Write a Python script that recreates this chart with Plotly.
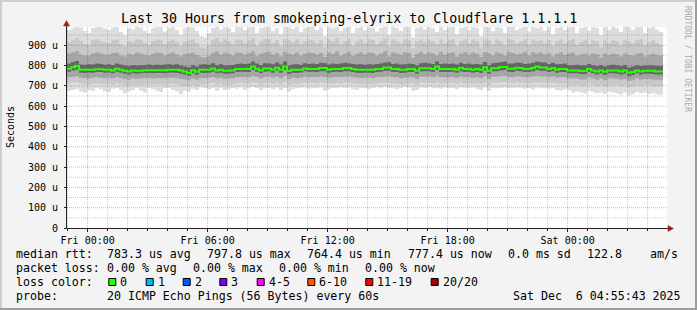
import plotly.graph_objects as go
import pandas as pd

# ---------------- data ----------------
title_text = "Last 30 Hours from smokeping-elyrix to Cloudflare 1.1.1.1"
range_start = "2025-12-04 22:58:00"
range_end = "2025-12-06 04:58:00"
step_minutes = 12

median_rtt = [
    784, 792, 798, 779, 779, 779, 779, 782, 782, 779,
    779, 776, 784, 779, 775, 771, 776, 775, 775, 777,
    777, 777, 777, 777, 777, 779, 779, 779, 776, 771,
    764, 777, 770, 779, 779, 779, 786, 776, 779, 774,
    775, 776, 783, 783, 783, 783, 795, 784, 776, 786,
    786, 779, 789, 779, 795, 773, 779, 779, 779, 786,
    783, 783, 783, 788, 788, 779, 783, 783, 783, 788,
    788, 783, 779, 779, 779, 779, 779, 783, 783, 790,
    790, 783, 783, 779, 779, 783, 783, 774, 787, 787,
    787, 783, 795, 783, 783, 783, 783, 779, 789, 783,
    783, 780, 783, 779, 792, 775, 787, 787, 793, 793,
    784, 784, 789, 788, 783, 783, 788, 795, 790, 790,
    783, 788, 780, 783, 783, 776, 776, 776, 773, 773,
    783, 776, 771, 776, 769, 776, 776, 776, 771, 776,
    765, 768, 776, 771, 774, 774, 774, 771, 771,
]
ping_max = [
    975, 985, 990, 988, 970, 960, 985, 990, 990, 982,
    975, 988, 990, 965, 948, 985, 978, 990, 988, 972,
    960, 985, 990, 990, 968, 985, 990, 975, 952, 985,
    990, 988, 970, 945, 940, 960, 985, 990, 978, 990,
    985, 965, 990, 990, 975, 988, 990, 960, 985, 990,
    990, 972, 985, 955, 990, 988, 980, 990, 965, 985,
    990, 990, 975, 988, 945, 990, 985, 990, 970, 985,
    990, 960, 985, 990, 975, 990, 988, 968, 985, 990,
    950, 990, 985, 972, 990, 990, 940, 985, 990, 978,
    990, 985, 965, 990, 975, 988, 990, 955, 985, 990,
    975, 990, 985, 945, 990, 988, 970, 990, 985, 960,
    990, 990, 975, 985, 990, 968, 990, 985, 990, 972,
    990, 955, 985, 990, 975, 988, 990, 960, 985, 990,
    970, 990, 985, 950, 990, 975, 990, 985, 965, 990,
    988, 975, 990, 990, 960, 985, 990, 978, 965,
]
ping_hi2 = [
    915, 925, 935, 920, 905, 900, 925, 930, 920, 915,
    910, 925, 930, 905, 895, 920, 915, 930, 925, 910,
    900, 920, 930, 925, 905, 920, 930, 915, 895, 920,
    925, 930, 910, 890, 885, 900, 925, 935, 915, 930,
    920, 905, 930, 925, 910, 925, 935, 900, 920, 930,
    930, 910, 925, 895, 930, 925, 915, 930, 905, 920,
    930, 925, 910, 925, 890, 930, 920, 935, 905, 920,
    930, 900, 920, 930, 910, 930, 925, 905, 920, 935,
    895, 930, 920, 910, 930, 925, 885, 920, 930, 915,
    930, 920, 905, 930, 910, 925, 930, 895, 920, 930,
    910, 930, 920, 890, 930, 925, 905, 930, 920, 900,
    930, 925, 910, 920, 930, 905, 930, 920, 925, 910,
    925, 895, 920, 930, 910, 925, 930, 900, 915, 925,
    905, 925, 920, 890, 925, 910, 925, 920, 900, 925,
    920, 910, 925, 930, 900, 915, 925, 910, 900,
]
ping_hi3 = [
    860, 865, 870, 855, 850, 850, 860, 865, 860, 855,
    855, 862, 865, 850, 845, 858, 855, 865, 860, 852,
    848, 858, 865, 862, 850, 858, 865, 855, 845, 858,
    860, 865, 852, 842, 840, 848, 862, 870, 855, 865,
    858, 850, 865, 862, 855, 862, 870, 848, 858, 865,
    868, 855, 862, 845, 868, 860, 855, 865, 850, 860,
    865, 862, 855, 862, 842, 865, 858, 870, 850, 860,
    868, 848, 858, 866, 855, 865, 862, 850, 860, 870,
    845, 865, 860, 855, 866, 862, 840, 858, 868, 856,
    866, 860, 850, 868, 855, 862, 866, 845, 860, 866,
    855, 866, 860, 842, 866, 862, 850, 866, 860, 848,
    868, 862, 855, 860, 868, 850, 866, 860, 864, 855,
    862, 845, 858, 866, 852, 860, 865, 848, 855, 860,
    850, 860, 856, 840, 860, 852, 860, 856, 845, 860,
    852, 850, 858, 862, 845, 852, 860, 852, 848,
]
ping_hi4 = [
    810, 818, 822, 805, 804, 806, 805, 810, 808, 804,
    806, 802, 810, 805, 800, 798, 802, 800, 802, 803,
    805, 802, 804, 803, 805, 806, 804, 806, 800, 796,
    792, 802, 796, 805, 806, 804, 812, 802, 806, 800,
    802, 803, 808, 810, 808, 810, 820, 810, 802, 812,
    812, 806, 815, 805, 820, 800, 805, 806, 804, 812,
    808, 810, 808, 814, 812, 805, 810, 808, 810, 814,
    812, 808, 805, 806, 804, 806, 805, 808, 810, 815,
    816, 808, 810, 805, 806, 810, 808, 800, 812, 814,
    812, 808, 820, 808, 810, 808, 810, 805, 814, 808,
    810, 806, 808, 805, 818, 802, 812, 814, 818, 820,
    810, 810, 814, 814, 808, 810, 814, 820, 816, 815,
    808, 814, 806, 808, 810, 802, 802, 804, 800, 800,
    808, 802, 798, 802, 796, 802, 804, 802, 798, 802,
    790, 795, 802, 798, 800, 802, 800, 798, 798,
]
ping_lo4 = [
    770, 776, 780, 765, 764, 766, 765, 768, 768, 765,
    766, 762, 770, 765, 760, 756, 762, 760, 762, 763,
    764, 762, 763, 764, 762, 765, 766, 764, 760, 756,
    750, 762, 755, 765, 764, 765, 770, 762, 765, 760,
    760, 762, 768, 770, 768, 768, 778, 770, 762, 770,
    772, 765, 774, 765, 778, 758, 765, 764, 766, 772,
    768, 770, 768, 772, 772, 765, 768, 770, 768, 772,
    772, 768, 765, 764, 765, 765, 764, 768, 770, 774,
    775, 768, 768, 764, 765, 768, 768, 760, 772, 772,
    772, 768, 778, 768, 768, 768, 770, 765, 772, 768,
    768, 765, 768, 764, 776, 760, 772, 772, 776, 778,
    770, 768, 774, 772, 768, 768, 772, 778, 774, 775,
    768, 772, 765, 768, 768, 762, 762, 762, 758, 758,
    768, 762, 756, 762, 755, 762, 762, 760, 756, 760,
    748, 754, 762, 756, 760, 760, 758, 756, 756,
]
ping_lo3 = [
    742, 745, 748, 740, 738, 736, 740, 742, 740, 738,
    740, 736, 742, 738, 734, 730, 736, 734, 736, 738,
    738, 736, 738, 738, 736, 740, 740, 738, 734, 730,
    726, 736, 730, 738, 738, 740, 744, 736, 740, 734,
    736, 738, 742, 744, 742, 742, 750, 744, 736, 744,
    746, 740, 746, 738, 750, 734, 740, 738, 740, 746,
    742, 744, 742, 746, 744, 740, 742, 744, 742, 746,
    746, 742, 740, 738, 740, 740, 738, 742, 744, 746,
    748, 742, 742, 738, 740, 742, 742, 734, 746, 746,
    746, 742, 750, 742, 742, 742, 744, 740, 746, 742,
    742, 740, 742, 738, 748, 734, 746, 746, 750, 750,
    744, 742, 748, 746, 742, 742, 746, 750, 748, 748,
    742, 746, 740, 742, 742, 736, 736, 736, 732, 732,
    742, 736, 730, 736, 728, 736, 736, 734, 730, 734,
    724, 728, 736, 730, 734, 734, 732, 730, 730,
]
ping_lo2 = [
    712, 715, 718, 710, 708, 705, 710, 712, 710, 708,
    710, 706, 712, 708, 704, 700, 706, 704, 706, 708,
    708, 706, 708, 708, 706, 710, 710, 708, 704, 700,
    698, 706, 700, 708, 708, 710, 714, 706, 710, 704,
    706, 708, 712, 714, 712, 712, 718, 714, 706, 714,
    716, 710, 716, 708, 718, 704, 710, 708, 710, 716,
    712, 714, 712, 716, 714, 710, 712, 714, 712, 716,
    716, 712, 710, 708, 710, 710, 708, 712, 714, 716,
    716, 712, 712, 708, 710, 712, 712, 704, 716, 716,
    716, 712, 718, 712, 712, 712, 714, 710, 716, 712,
    712, 710, 712, 708, 716, 704, 716, 716, 718, 718,
    714, 712, 716, 716, 712, 712, 716, 718, 716, 716,
    712, 716, 710, 712, 712, 706, 706, 706, 702, 702,
    712, 706, 700, 706, 698, 706, 706, 704, 700, 704,
    694, 698, 706, 700, 704, 704, 702, 700, 700,
]
ping_min = [
    675, 680, 685, 672, 668, 680, 676, 690, 684, 672,
    670, 686, 690, 678, 662, 672, 680, 688, 676, 668,
    690, 684, 676, 670, 688, 690, 680, 672, 660, 676,
    670, 686, 680, 692, 688, 684, 690, 676, 688, 680,
    684, 690, 686, 692, 680, 688, 694, 690, 678, 688,
    690, 684, 692, 680, 690, 672, 684, 688, 690, 692,
    686, 690, 688, 692, 676, 684, 690, 688, 692, 690,
    692, 684, 680, 690, 688, 684, 690, 692, 688, 694,
    690, 688, 684, 690, 694, 692, 676, 680, 692, 690,
    694, 688, 690, 686, 692, 688, 690, 684, 692, 688,
    690, 692, 686, 680, 692, 676, 690, 688, 690, 692,
    688, 690, 692, 688, 686, 690, 684, 692, 688, 690,
    686, 690, 680, 676, 684, 678, 666, 672, 668, 662,
    676, 670, 664, 668, 660, 672, 668, 662, 658, 668,
    654, 660, 670, 664, 668, 660, 664, 658, 656,
]

x_tick_times = ["2025-12-05 00:00", "2025-12-05 06:00", "2025-12-05 12:00",
                "2025-12-05 18:00", "2025-12-06 00:00"]
x_tick_labels = ["Fri 00:00", "Fri 06:00", "Fri 12:00", "Fri 18:00", "Sat 00:00"]
y_tick_vals = [0, 100, 200, 300, 400, 500, 600, 700, 800, 900]
y_tick_labels = ["0", "100 u", "200 u", "300 u", "400 u", "500 u",
                 "600 u", "700 u", "800 u", "900 u"]
y_axis_title = "Seconds"

rtt_label = "median rtt:"
rtt_items = ["783.3 us avg", "797.8 us max", "764.4 us min", "777.4 us now",
             "0.0 ms sd", "122.8", "am/s"]
loss_label = "packet loss:"
loss_items = ["0.00 % avg", "0.00 % max", "0.00 % min", "0.00 % now"]
color_label = "loss color:"
loss_bins = ["0", "1", "2", "3", "4-5", "6-10", "11-19", "20/20"]
loss_bin_colors = ["#26ff00", "#00b8ff", "#0059ff", "#7e00ff",
                   "#ff00ff", "#ff5500", "#ff0000", "#a10000"]
probe_label = "probe:"
probe_text = "20 ICMP Echo Pings (56 Bytes) every 60s"
date_text = "Sat Dec  6 04:55:43 2025"
watermark = "RRDTOOL / TOBI OETIKER"

# ---------------- layout constants ----------------
W, H = 697, 310
L, T, PW, PH = 67, 27, 600, 201
Y_TOP = 990
MONO = "DejaVu Sans Mono"


def px(x):
    return (x - L) / PW


def py(y):
    return (T + PH - y) / PH


step = pd.Timedelta(minutes=step_minutes)


def edges(vals):
    t = pd.date_range(start=range_start, periods=len(vals), freq=f"{step_minutes}min")
    xs = list(t) + [t[-1] + step]
    ys = list(vals) + [vals[-1]]
    return xs, ys


fig = go.Figure()

# smoke bands (outer -> inner, lighter -> darker)
bands = [
    (ping_min, ping_max, "#dddddd"),
    (ping_lo2, ping_hi2, "#c8c8c8"),
    (ping_lo3, ping_hi3, "#a6a6a6"),
    (ping_lo4, ping_hi4, "#666666"),
]
for lo, hi, col in bands:
    xs, ys = edges(lo)
    fig.add_trace(go.Scatter(x=xs, y=ys, mode="lines",
                             line=dict(width=0, shape="hv", color=col),
                             hoverinfo="skip", showlegend=False))
    xs, ys = edges(hi)
    fig.add_trace(go.Scatter(x=xs, y=ys, mode="lines",
                             line=dict(width=0, shape="hv", color=col),
                             fill="tonexty", fillcolor=col,
                             hoverinfo="skip", showlegend=False))

# grid drawn over the smoke but under the median line (as rrdtool does)
hours = pd.date_range("2025-12-04 23:00", "2025-12-06 04:00", freq="h")
major_times = pd.to_datetime(x_tick_times)
gx, gy = [], []
for h in hours:
    if h in set(major_times):
        continue
    gx += [h, h, None]
    gy += [0, Y_TOP, None]
x0t, x1t = pd.Timestamp(range_start), pd.Timestamp(range_end)
for v in range(50, 1000, 100):
    gx += [x0t, x1t, None]
    gy += [v, v, None]
fig.add_trace(go.Scatter(x=gx, y=gy, mode="lines", connectgaps=False,
                         line=dict(color="rgba(140,140,140,0.5)", width=1, dash="1px,1px"),
                         hoverinfo="skip", showlegend=False))
mx, my = [], []
for tt in major_times:
    mx += [tt, tt, None]
    my += [0, Y_TOP, None]
for v in y_tick_vals[1:]:
    mx += [x0t, x1t, None]
    my += [v, v, None]
fig.add_trace(go.Scatter(x=mx, y=my, mode="lines", connectgaps=False,
                         line=dict(color="rgba(255,0,0,0.38)", width=1, dash="1px,1px"),
                         hoverinfo="skip", showlegend=False))

# median line
xs, ys = edges(median_rtt)
fig.add_trace(go.Scatter(x=xs, y=ys, mode="lines",
                         line=dict(width=2, shape="hv", color=loss_bin_colors[0]),
                         hoverinfo="skip", showlegend=False))

shapes = []
AX = "#222222"
ARROW = "#9b2020"
# axes with arrows
shapes.append(dict(type="line", xref="paper", yref="paper", x0=px(66.5), x1=px(66.5),
                   y0=py(228.5), y1=py(23), line=dict(color=AX, width=1), layer="above"))
shapes.append(dict(type="line", xref="paper", yref="paper", x0=px(66.5), x1=px(669),
                   y0=py(228.5), y1=py(228.5), line=dict(color=AX, width=1), layer="above"))
shapes.append(dict(type="path", xref="paper", yref="paper",
                   path=f"M {px(63.5)} {py(26)} L {px(69.5)} {py(26)} L {px(66.5)} {py(20.5)} Z",
                   fillcolor=ARROW, line=dict(color=ARROW, width=0.5), layer="above"))
shapes.append(dict(type="path", xref="paper", yref="paper",
                   path=f"M {px(668)} {py(225.5)} L {px(668)} {py(231.5)} L {px(673.5)} {py(228.5)} Z",
                   fillcolor=ARROW, line=dict(color=ARROW, width=0.5), layer="above"))

# frame
shapes.append(dict(type="rect", xref="paper", yref="paper", x0=px(0), x1=px(697),
                   y0=py(0), y1=py(2), fillcolor="#cfcfcf", line=dict(width=0)))
shapes.append(dict(type="rect", xref="paper", yref="paper", x0=px(0), x1=px(2),
                   y0=py(0), y1=py(310), fillcolor="#cfcfcf", line=dict(width=0)))
shapes.append(dict(type="rect", xref="paper", yref="paper", x0=px(0), x1=px(697),
                   y0=py(308), y1=py(310), fillcolor="#9e9e9e", line=dict(width=0)))
shapes.append(dict(type="rect", xref="paper", yref="paper", x0=px(695), x1=px(697),
                   y0=py(0), y1=py(310), fillcolor="#9e9e9e", line=dict(width=0)))

annotations = []


def text(s, x, y, size=11.6, anchor="left", color="#000000", angle=0):
    annotations.append(dict(text=s.replace(" ", "&nbsp;") if angle == 0 else s,
                            xref="paper", yref="paper", x=px(x), y=py(y),
                            xanchor=anchor, yanchor="middle", showarrow=False,
                            textangle=angle, borderpad=0, borderwidth=0,
                            font=dict(family=MONO, size=size, color=color)))


text(title_text, 348.5, 19, size=13.3, anchor="center")
text(y_axis_title, 11, 127, size=10, anchor="center", angle=-90)
text(watermark, 688, 59, size=8, anchor="center", color="#aaaaaa", angle=90)

text(rtt_label, 16, 254)
for s, x in zip(rtt_items, [107.3, 207.3, 307.3, 407.7, 507.7, 586.7, 650]):
    text(s, x, 254)
text(loss_label, 16, 268)
for s, x in zip(loss_items, [107.3, 193.3, 279.3, 365.3]):
    text(s, x, 268)
text(color_label, 16, 282)
box_x = [108.3, 145.7, 182.7, 219.3, 256.7, 307.3, 365.3, 430.7]
for s, c, bx in zip(loss_bins, loss_bin_colors, box_x):
    shapes.append(dict(type="rect", xref="paper", yref="paper",
                       x0=px(bx + 0.5), x1=px(bx + 7.5), y0=py(285.5), y1=py(278.5),
                       fillcolor=c, line=dict(color="#000000", width=1)))
    text(s, bx + 12, 282)
text(probe_label, 16, 296)
text(probe_text, 107.3, 296)
text(date_text, 513.3, 296)

fig.update_layout(
    width=W, height=H,
    margin=dict(l=L, r=W - L - PW, t=T, b=H - T - PH, pad=0),
    paper_bgcolor="#f3f3f3", plot_bgcolor="#ffffff",
    showlegend=False,
    shapes=shapes, annotations=annotations,
    xaxis=dict(type="date", range=[range_start, range_end],
               tickmode="array", tickvals=x_tick_times, ticktext=x_tick_labels,
               ticks="outside", ticklen=3, tickcolor=AX, tickwidth=1,
               tickfont=dict(family=MONO, size=10, color="#000000"),
               showgrid=False, zeroline=False, showline=False,
               minor=dict(ticks="outside", ticklen=2, tickcolor=AX,
                          tickmode="linear", tick0="2025-12-05 00:00", dtick=3600000,
                          showgrid=False),
               fixedrange=True),
    yaxis=dict(range=[0, Y_TOP], tickmode="array", tickvals=y_tick_vals,
               ticktext=y_tick_labels, ticks="outside", ticklen=2, tickcolor=AX,
               tickfont=dict(family=MONO, size=10, color="#000000"),
               ticklabelstandoff=4,
               showgrid=False, zeroline=False, showline=False, fixedrange=True),
)

fig.write_html("out.html")
